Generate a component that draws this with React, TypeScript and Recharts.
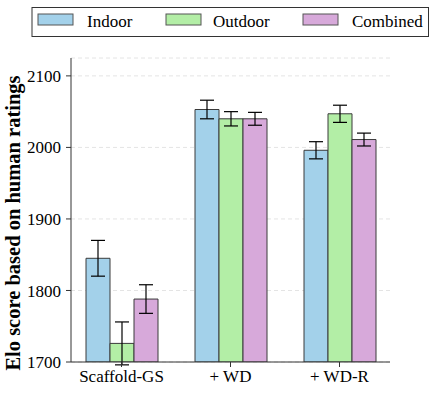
import React from 'react';
import { BarChart, Bar, XAxis, YAxis, CartesianGrid, ErrorBar } from 'recharts';

const categories = ['Scaffold-GS', '+ WD', '+ WD-R'];
const indoor = [1845, 2053, 1996];
const outdoor = [1726, 2040, 2047];
const combined = [1788, 2040, 2011];
const indoorErr = [25, 13, 12];
const outdoorErr = [30, 10, 12];
const combinedErr = [20, 9, 9];
const yTicks = [1700, 1800, 1900, 2000, 2100];

const seriesNames = ['Indoor', 'Outdoor', 'Combined'];
const colors = ['#a3d1ea', '#b3eea6', '#d7a9da'];

const data = categories.map((c, i) => ({
  name: c,
  indoor: indoor[i],
  outdoor: outdoor[i],
  combined: combined[i],
  indoorErr: indoorErr[i],
  outdoorErr: outdoorErr[i],
  combinedErr: combinedErr[i],
}));

const FONT = '"Liberation Serif", "Times New Roman", Times, serif';

const legendSwatchX = [38, 166, 303];
const legendTextX = [87, 213, 352];

export default function App() {
  return (
    <div style={{ position: 'absolute', left: 0, top: 0, width: 436, height: 393, background: '#fff' }}>
      <BarChart
        width={436}
        height={393}
        data={data}
        margin={{ top: 58, right: 46, bottom: 0, left: 0 }}
        barSize={24}
        barGap={0}
      >
        <CartesianGrid vertical={false} stroke="#e4e4e4" strokeDasharray="4 3" />
        <XAxis
          dataKey="name"
          height={31}
          padding={{ left: -4, right: -4 }}
          axisLine={{ stroke: '#333', strokeWidth: 1 }}
          tickLine={{ stroke: '#333' }}
          tickSize={5}
          tickMargin={3}
          tick={{ fill: '#000', fontSize: 17, fontFamily: FONT }}
          interval={0}
        />
        <YAxis
          width={71}
          domain={[1700, 2125]}
          ticks={yTicks}
          allowDataOverflow
          axisLine={{ stroke: '#333', strokeWidth: 1 }}
          tickLine={{ stroke: '#333' }}
          tickSize={5}
          tickMargin={5}
          tick={{ fill: '#000', fontSize: 17, fontFamily: FONT }}
          label={{
            content: () => (
              <text
                x={20}
                y={223}
                transform="rotate(-90, 20, 223)"
                textAnchor="middle"
                fontFamily={FONT}
                fontWeight="bold"
                fontSize={20.5}
                fill="#000"
              >
                Elo score based on human ratings
              </text>
            ),
          }}
        />
        <Bar dataKey="indoor" fill={colors[0]} stroke="#3a3a3a" strokeWidth={1} isAnimationActive={false}>
          <ErrorBar dataKey="indoorErr" width={7} stroke="#000" strokeWidth={1.2} direction="y" />
        </Bar>
        <Bar dataKey="outdoor" fill={colors[1]} stroke="#3a3a3a" strokeWidth={1} isAnimationActive={false}>
          <ErrorBar dataKey="outdoorErr" width={7} stroke="#000" strokeWidth={1.2} direction="y" />
        </Bar>
        <Bar dataKey="combined" fill={colors[2]} stroke="#3a3a3a" strokeWidth={1} isAnimationActive={false}>
          <ErrorBar dataKey="combinedErr" width={7} stroke="#000" strokeWidth={1.2} direction="y" />
        </Bar>
      </BarChart>
      <svg width={436} height={45} style={{ position: 'absolute', left: 0, top: 0 }}>
        <rect x={32} y={7.5} width={396.5} height={29} fill="#fff" stroke="#333" strokeWidth={1} />
        {seriesNames.map((n, i) => (
          <g key={n}>
            <rect x={legendSwatchX[i]} y={14} width={35} height={11} fill={colors[i]} stroke="#555" strokeWidth={1} />
            <text x={legendTextX[i]} y={26.5} fontFamily={FONT} fontSize={17} fill="#000">
              {n}
            </text>
          </g>
        ))}
      </svg>
    </div>
  );
}
